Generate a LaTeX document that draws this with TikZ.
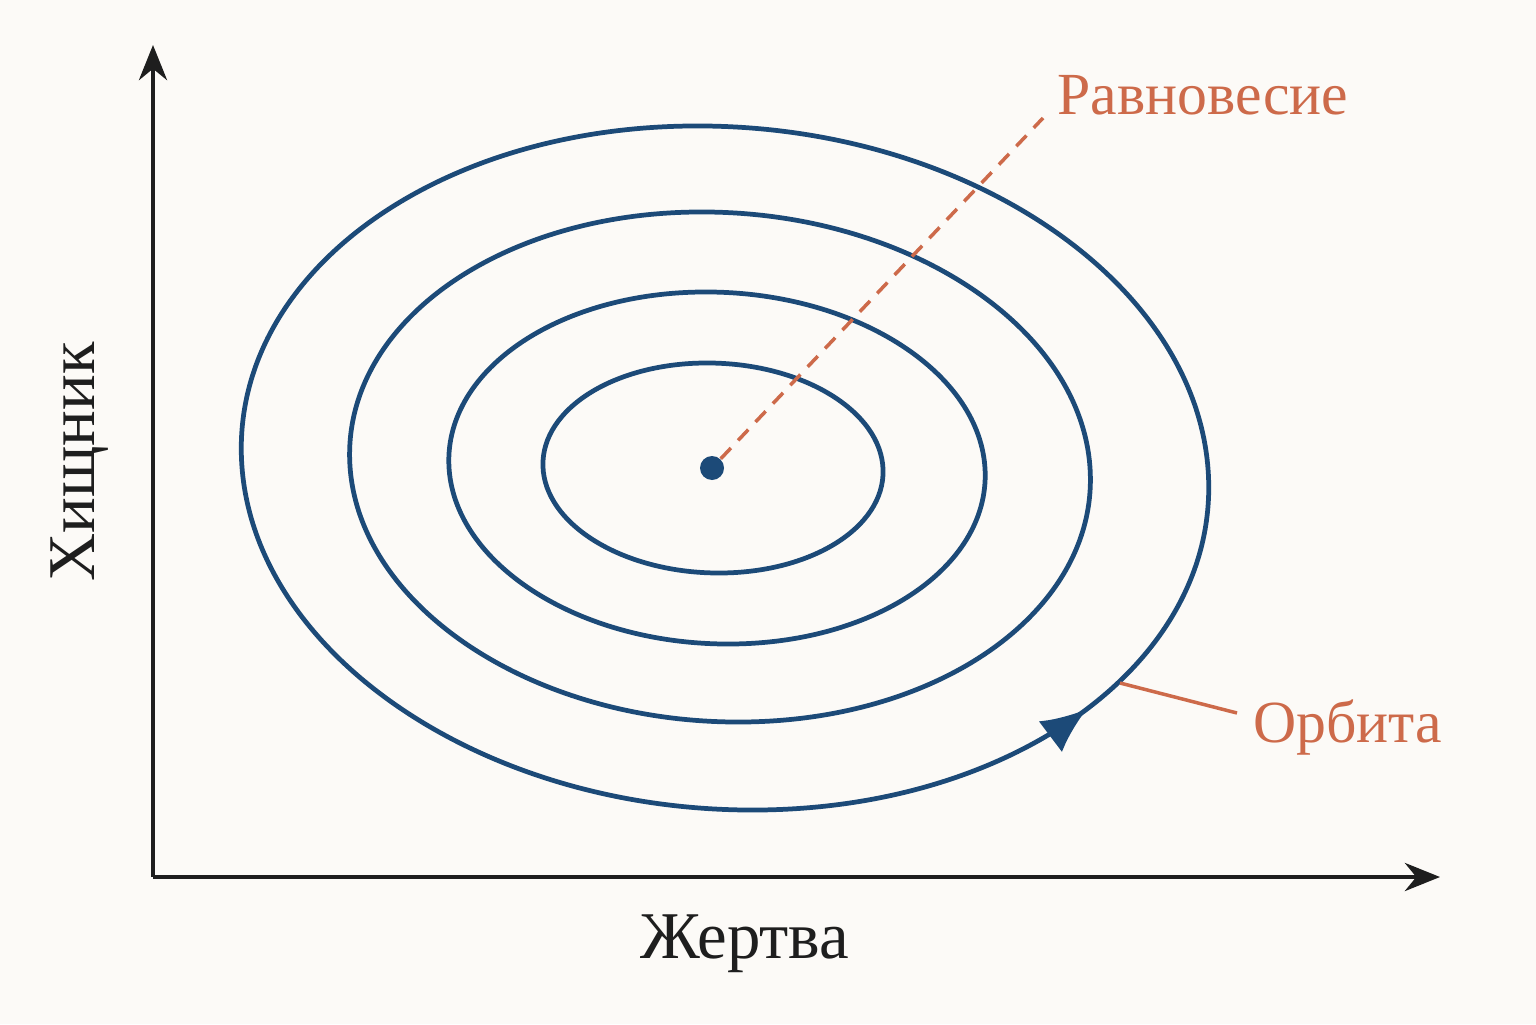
\documentclass[tikz,border=0pt]{standalone}
\usepackage{fontspec}
\setmainfont{Liberation Serif}
\usetikzlibrary{arrows.meta,decorations.markings}

\definecolor{bgcol}{RGB}{252,250,247}
\definecolor{orbitblue}{RGB}{28,74,120}
\definecolor{labelred}{RGB}{205,106,74}
\definecolor{axisgray}{RGB}{30,30,30}

\tikzset{
  axis/.style={draw=axisgray, line width=1.2pt, -{Stealth[length=10pt,width=8pt]}},
  orbit/.style={draw=orbitblue, line width=1.35pt},
  lbl/.style={text=labelred, font=\fontsize{17}{20}\selectfont},
  axlbl/.style={text=axisgray, font=\fontsize{19}{22}\selectfont},
}

\begin{document}
\begin{tikzpicture}

\path[use as bounding box, fill=bgcol] (0,0) rectangle (15.36,10.24);

% axes
\coordinate (o) at (1.53,1.47);
\coordinate (ytop) at (1.53,9.79);
\coordinate (xend) at (14.40,1.47);
\path[axis] (o) -- (ytop);
\path[axis] (o) -- (xend);

\node[axlbl, rotate=90] (pred) at (0.80,5.62) {Хищник};
\node[axlbl] (prey) at (7.45,0.80) {Жертва};

% orbits
\begin{scope}[shift={(7.25,5.56)}, xslant=-0.06, yslant=-0.01]
\path[orbit, decoration={markings, mark=at position 0.894 with {\arrow{Latex[length=13pt,width=11pt]}}}, postaction={decorate}]
  (0,0) ellipse (4.83 and 3.42);
\end{scope}
\begin{scope}[shift={(7.20,5.57)}, xslant=-0.05, yslant=-0.01]
\path[orbit] (0,0) ellipse (3.70 and 2.55);
\end{scope}
\begin{scope}[shift={(7.17,5.56)}, xslant=-0.04, yslant=-0.01]
\path[orbit] (0,0) ellipse (2.68 and 1.76);
\end{scope}
\begin{scope}[shift={(7.13,5.56)}, xslant=-0.03, yslant=-0.01]
\path[orbit] (0,0) ellipse (1.70 and 1.05);
\end{scope}

% equilibrium
\node[circle, fill=orbitblue, inner sep=0pt, minimum size=0.24cm] (eq) at (7.12,5.56) {};
\node[lbl, anchor=west] (eqlbl) at (10.45,9.29) {Равновесие};
\coordinate (eqend) at (10.43,9.06);
\path[draw=labelred, line width=1pt, dash pattern=on 4.2pt off 3pt] (eq) -- (eqend);

% orbit label
\node[lbl, anchor=west] (orblbl) at (12.41,2.97) {Орбита};
\coordinate (onorbit) at (11.20,3.41);
\path[draw=labelred, line width=1pt] (onorbit) -- (12.37,3.11);

\end{tikzpicture}
\end{document}
